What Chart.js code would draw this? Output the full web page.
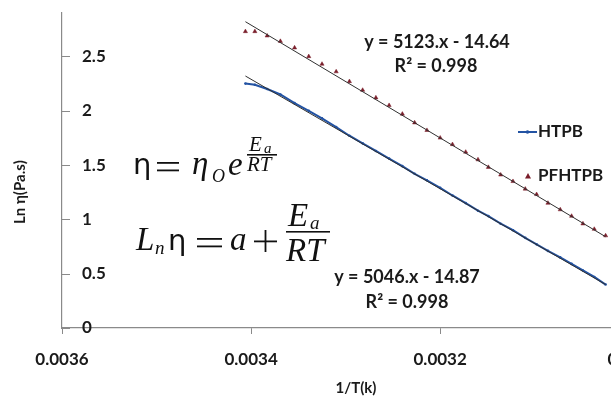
<!DOCTYPE html>
<html>
<head>
<meta charset="utf-8">
<script src="https://cdn.jsdelivr.net/npm/chart.js@4.4.0/dist/chart.umd.min.js"></script>
<style>
  html, body { margin: 0; padding: 0; background: #fff; }
  #wrap { width: 611px; height: 400px; overflow: hidden; }
</style>
</head>
<body>
<div id="wrap"><canvas id="chart" width="666" height="400"></canvas></div>
<script>
// 1/T values (same temperatures for both samples)
const invT = [0.003406, 0.003396, 0.003383, 0.003369, 0.003354, 0.003339, 0.003325, 0.003310,
              0.003296, 0.003282, 0.003268, 0.003254, 0.003240, 0.003227, 0.003214, 0.003200,
              0.003187, 0.003173, 0.003160, 0.003149, 0.003136, 0.003123, 0.003110, 0.003098,
              0.003086, 0.003073, 0.003061, 0.003049, 0.003037, 0.003025];
const htpb = [2.25, 2.24, 2.20, 2.15, 2.07, 2.00, 1.93, 1.85, 1.77, 1.70, 1.63, 1.56, 1.49, 1.42, 1.36,
              1.29, 1.22, 1.15, 1.08, 1.03, 0.96, 0.90, 0.83, 0.77, 0.71, 0.65, 0.59, 0.53, 0.47, 0.40];
const pfhtpb = [2.73, 2.73, 2.69, 2.64, 2.58, 2.50, 2.43, 2.36, 2.27, 2.19, 2.12, 2.05, 1.97, 1.89, 1.82,
                1.75, 1.69, 1.62, 1.55, 1.48, 1.41, 1.35, 1.28, 1.23, 1.15, 1.09, 1.03, 0.96, 0.91, 0.85];
// trend line ends
const trendX = [0.003406, 0.003025];
const htpbTrend = [2.32, 0.40];
const pfhtpbTrend = [2.82, 0.84];
const yTicks = [0, 0.5, 1, 1.5, 2, 2.5];

const htpbEq = ['y = 5046.x - 14.87', 'R² = 0.998'];
const pfhtpbEq = ['y = 5123.x - 14.64', 'R² = 0.998'];

const pts = (xs, ys) => xs.map((x, i) => ({x: x, y: ys[i]}));

const blue = '#2353a3';
const maroon = '#7a1e2b';
const axisGray = '#8a8a8a';
const ink = '#1a1a1a';
const labelFont = {family: 'Lato', size: 17, weight: 'bold'};

// inward tick marks on the y axis
const yTickMarks = {
  id: 'yTickMarks',
  afterDraw(chart) {
    const ctx = chart.ctx, y = chart.scales.y, left = chart.chartArea.left;
    ctx.save();
    ctx.strokeStyle = axisGray;
    ctx.lineWidth = 1;
    yTicks.forEach(v => {
      const py = Math.round(y.getPixelForValue(v)) + 0.5;
      ctx.beginPath();
      ctx.moveTo(left, py);
      ctx.lineTo(left + 8, py);
      ctx.stroke();
    });
    ctx.restore();
  }
};

function eq(ctx, x, base, w) {
  ctx.fillRect(x, base - 12, w, 1.8);
  ctx.fillRect(x, base - 4.5, w, 1.8);
}

// legend, equations, formulas and axis titles
const annotations = {
  id: 'annotations',
  afterDraw(chart) {
    const ctx = chart.ctx;
    ctx.save();
    ctx.fillStyle = ink;
    ctx.textBaseline = 'middle';
    ctx.font = 'bold 18px Lato';
    ctx.textAlign = 'center';
    ctx.fillText(pfhtpbEq[0], 437, 42);
    ctx.fillText(pfhtpbEq[1], 436, 66);
    ctx.fillText(htpbEq[0], 407, 277);
    ctx.fillText(htpbEq[1], 407, 302);

    // legend
    ctx.font = 'bold 17px Lato';
    ctx.textAlign = 'left';
    ctx.fillText('HTPB', 538, 132);
    ctx.fillText('PFHTPB', 538, 176);
    ctx.strokeStyle = blue;
    ctx.lineWidth = 2;
    ctx.beginPath(); ctx.moveTo(518, 132); ctx.lineTo(537, 132); ctx.stroke();
    ctx.fillStyle = blue;
    ctx.beginPath(); ctx.arc(527.5, 132, 1.8, 0, Math.PI * 2); ctx.fill();
    ctx.fillStyle = maroon;
    ctx.beginPath(); ctx.moveTo(528, 173); ctx.lineTo(531, 178.5); ctx.lineTo(525, 178.5); ctx.closePath(); ctx.fill();

    // formula 1:  η = η0 e^(Ea/RT)
    ctx.fillStyle = '#111';
    ctx.textBaseline = 'alphabetic';
    ctx.font = '29px "DejaVu Sans"';
    ctx.fillText('η', 133, 174);
    eq(ctx, 157, 174, 22);
    ctx.font = 'italic 33px "Liberation Serif"';
    ctx.fillText('η', 192, 174);
    ctx.font = 'italic 18px "Liberation Serif"';
    ctx.fillText('O', 212, 182);
    ctx.font = 'italic 33px "Liberation Serif"';
    ctx.fillText('e', 228, 175);
    ctx.font = 'italic 21px "Liberation Serif"';
    ctx.fillText('E', 249, 151);
    ctx.font = 'italic 15px "Liberation Serif"';
    ctx.fillText('a', 264, 153);
    ctx.font = 'italic 21px "Liberation Serif"';
    ctx.fillText('RT', 247, 171);
    ctx.fillRect(247, 154, 30, 1.6);

    // formula 2:  Ln η = a + Ea/RT
    ctx.font = 'italic 33px "Liberation Serif"';
    ctx.fillText('L', 136, 250);
    ctx.font = 'italic 19px "Liberation Serif"';
    ctx.fillText('n', 155, 254);
    ctx.font = '29px "DejaVu Sans"';
    ctx.fillText('η', 168, 250);
    eq(ctx, 197, 250, 25);
    ctx.font = 'italic 33px "Liberation Serif"';
    ctx.fillText('a', 230, 250);
    ctx.fillRect(254, 240.5, 23, 1.8);
    ctx.fillRect(264.6, 230, 1.8, 22);
    ctx.fillText('E', 288, 226);
    ctx.font = 'italic 19px "Liberation Serif"';
    ctx.fillText('a', 310, 229);
    ctx.font = 'italic 33px "Liberation Serif"';
    ctx.fillText('RT', 286, 261);
    ctx.fillRect(286, 231, 44, 1.6);

    // axis titles
    ctx.fillStyle = ink;
    ctx.font = 'bold 15px Lato';
    ctx.textAlign = 'center';
    ctx.textBaseline = 'middle';
    ctx.fillText('1/T(k)', 356, 388);
    ctx.translate(20, 192);
    ctx.rotate(-Math.PI / 2);
    ctx.fillText('Ln η(Pa.s)', 0, 0);
    ctx.restore();
  }
};

new Chart(document.getElementById('chart'), {
  type: 'scatter',
  data: {
    datasets: [
      {label: 'PFHTPB trend', data: pts(trendX, pfhtpbTrend), showLine: true, borderColor: '#303030',
       borderWidth: 1, pointRadius: 0},
      {label: 'HTPB trend', data: pts(trendX, htpbTrend), showLine: true, borderColor: '#303030',
       borderWidth: 1, pointRadius: 0},
      {label: 'PFHTPB', data: pts(invT, pfhtpb), showLine: false, pointStyle: 'triangle',
       pointRadius: 2.4, backgroundColor: maroon, borderColor: maroon, borderWidth: 0.5},
      {label: 'HTPB', data: pts(invT, htpb), showLine: true, borderColor: blue, borderWidth: 2,
       pointRadius: 1.3, backgroundColor: blue, pointBorderWidth: 0}
    ]
  },
  options: {
    responsive: false,
    animation: false,
    layout: {padding: {top: 13, left: 0, right: 0, bottom: 0}},
    plugins: {legend: {display: false}, tooltip: {enabled: false}},
    scales: {
      x: {
        type: 'linear',
        reverse: true,
        min: 0.003,
        max: 0.0036,
        afterFit: s => { s.height = 72; },
        ticks: {
          stepSize: 0.0002,
          padding: 15,
          color: ink,
          font: labelFont,
          maxRotation: 0,
          callback: v => String(Number(v.toFixed(4)))
        },
        grid: {drawOnChartArea: false, tickLength: 6, color: axisGray},
        border: {color: axisGray, width: 1.2}
      },
      y: {
        min: 0,
        max: 2.9,
        afterFit: s => { s.width = 62; s.paddingTop = 0; s.paddingBottom = 0; },
        ticks: {
          stepSize: 0.5,
          includeBounds: false,
          mirror: true,
          padding: 20,
          color: ink,
          font: labelFont,
          callback: v => String(v)
        },
        grid: {display: false},
        border: {color: axisGray, width: 1.2}
      }
    }
  },
  plugins: [yTickMarks, annotations]
});
</script>
</body>
</html>
